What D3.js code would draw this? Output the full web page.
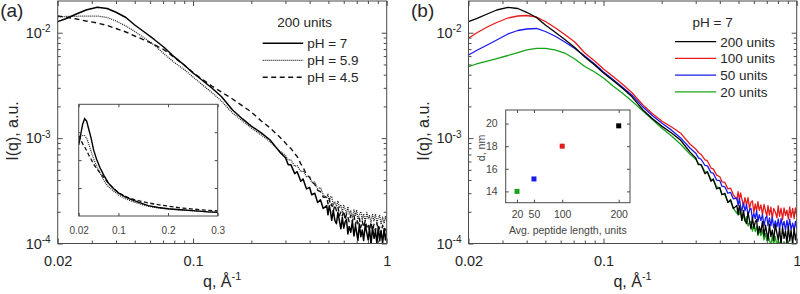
<!DOCTYPE html>
<html>
<head>
<meta charset="utf-8">
<script src="https://cdn.jsdelivr.net/npm/d3@7"></script>
<style>
  body { margin: 0; background: #fff; }
  text { font-family: "Liberation Sans", Arial, sans-serif; }
</style>
</head>
<body>
<svg id="chart" width="800" height="294"></svg>
<script>
// scattering vector q (1/A), shared by every curve; denser where the data gets noisy
const qValues = [0.02, 0.022, 0.025, 0.028, 0.032, 0.036, 0.04, 0.045, 0.05, 0.056, 0.063, 0.071, 0.08, 0.09, 0.1,
  0.112, 0.125, 0.14, 0.16, 0.18, 0.2, 0.225, 0.25, 0.28, 0.30, 0.31, 0.32, 0.335, 0.345, 0.36, 0.37, 0.385, 0.40,
  0.41, 0.425, 0.44, 0.455, 0.47,
  0.49, 0.4975, 0.505, 0.5125, 0.52, 0.53, 0.54, 0.55, 0.56, 0.57, 0.58, 0.59, 0.60, 0.61, 0.62, 0.63, 0.64, 0.6525,
  0.665, 0.6775, 0.69, 0.70, 0.71, 0.7225, 0.735, 0.7475, 0.76, 0.775, 0.79, 0.8025, 0.815, 0.83, 0.845, 0.86, 0.875,
  0.89, 0.905, 0.92, 0.935, 0.9525, 0.97, 0.985, 1.0];

// panel (a): 200 units at three pH values
const ph7 = [0.01274, 0.01358, 0.01506, 0.01643, 0.01742, 0.01698, 0.01563, 0.01394, 0.01184, 0.01016, 0.00863,
  0.00724, 0.00589, 0.00494, 0.00415, 0.00352, 0.00299, 0.00248, 0.00185, 0.00152, 0.00130, 0.00112, 0.00096, 0.00074,
  6.5e-4, 5.6e-4, 5.6e-4, 4.6e-4, 4.8e-4, 3.9e-4, 4.1e-4, 3.3e-4, 3.4e-4, 2.9e-4, 3.0e-4, 2.45e-4, 2.6e-4, 2.15e-4,
  2.29e-4, 1.87e-4, 2.28e-4, 2.02e-4, 1.66e-4, 2.06e-4, 1.66e-4, 1.54e-4, 1.97e-4, 1.63e-4, 1.38e-4, 1.77e-4, 1.40e-4,
  1.60e-4, 1.69e-4, 1.23e-4, 1.45e-4, 1.28e-4, 1.62e-4, 1.18e-4, 1.49e-4, 1.26e-4, 1.07e-4, 1.53e-4, 1.16e-4, 1.34e-4,
  1.07e-4, 1.51e-4, 1.25e-4, 1.08e-4, 1.39e-4, 0.98e-4, 1.43e-4, 1.12e-4, 1.32e-4, 1.00e-4, 1.45e-4, 1.06e-4, 1.33e-4,
  1.00e-4, 1.39e-4, 1.08e-4, 1.27e-4];
const ph59 = [0.01410, 0.01426, 0.01432, 0.01441, 0.01441, 0.01394, 0.01292, 0.01158, 0.01027, 0.00891, 0.00765,
  0.00628, 0.00522, 0.00448, 0.00380, 0.00319, 0.00271, 0.00225, 0.00173, 0.001454, 0.001248, 0.001071, 0.000919, 0.000755,
  6.9e-4, 6.2e-4, 6.2e-4, 5.4e-4, 5.5e-4, 4.8e-4, 4.9e-4, 4.3e-4, 4.3e-4, 3.8e-4, 3.85e-4, 3.3e-4, 3.4e-4, 2.9e-4,
  2.72e-4, 2.95e-4, 2.51e-4, 2.76e-4, 2.80e-4, 2.32e-4, 2.50e-4, 2.24e-4, 2.53e-4, 2.18e-4, 2.33e-4, 1.96e-4, 2.30e-4,
  2.11e-4, 1.91e-4, 2.24e-4, 1.91e-4, 2.04e-4, 1.76e-4, 2.08e-4, 1.85e-4, 2.08e-4, 1.70e-4, 1.89e-4, 2.01e-4, 1.68e-4,
  1.91e-4, 1.62e-4, 1.97e-4, 1.71e-4, 1.84e-4, 1.58e-4, 1.89e-4, 1.64e-4, 1.90e-4, 1.58e-4, 1.74e-4, 1.85e-4, 1.52e-4,
  1.78e-4, 1.55e-4, 1.80e-4, 1.62e-4];
const ph45 = [0.01441, 0.01410, 0.01350, 0.01292, 0.01237, 0.01171, 0.01097, 0.01016, 0.00931, 0.00853, 0.00773,
  0.00686, 0.00582, 0.00494, 0.00419, 0.00360, 0.00312, 0.00274, 0.00235, 0.00202, 0.00177, 0.001454, 0.001248, 0.001025,
  9.0e-4, 8.3e-4, 8.0e-4, 7.1e-4, 6.7e-4, 5.7e-4, 5.3e-4, 4.5e-4, 4.25e-4, 3.85e-4, 3.65e-4, 3.2e-4, 3.1e-4, 2.75e-4,
  2.76e-4, 2.38e-4, 2.68e-4, 2.28e-4, 2.37e-4, 2.04e-4, 2.32e-4, 2.04e-4, 2.23e-4, 1.83e-4, 2.01e-4, 1.83e-4, 2.04e-4,
  1.67e-4, 1.91e-4, 1.78e-4, 1.61e-4, 1.87e-4, 1.61e-4, 1.86e-4, 1.50e-4, 1.70e-4, 1.54e-4, 1.74e-4, 1.42e-4, 1.64e-4,
  1.42e-4, 1.65e-4, 1.43e-4, 1.54e-4, 1.32e-4, 1.60e-4, 1.33e-4, 1.52e-4, 1.32e-4, 1.56e-4, 1.33e-4, 1.43e-4, 1.23e-4,
  1.49e-4, 1.29e-4, 1.44e-4, 1.27e-4];

// panel (b): pH 7 at four peptide lengths (200 units is the same run as pH 7 above)
const units200 = ph7;
const units100 = [0.00885, 0.00994, 0.01133, 0.01250, 0.01379, 0.01441, 0.01457, 0.01410, 0.01278, 0.01121, 0.00962,
  0.00817, 0.00642, 0.00539, 0.00453, 0.00384, 0.00326, 0.00271, 0.00206, 0.00169, 0.001454, 0.001275, 0.00112, 0.00088,
  7.9e-4, 7.3e-4, 7.0e-4, 6.2e-4, 6.1e-4, 5.2e-4, 5.1e-4, 4.45e-4, 4.3e-4, 3.85e-4, 3.8e-4, 3.3e-4, 3.35e-4, 2.9e-4,
  2.60e-4, 3.10e-4, 2.59e-4, 3.02e-4, 2.65e-4, 2.28e-4, 2.73e-4, 2.30e-4, 2.73e-4, 2.14e-4, 2.47e-4, 2.54e-4, 1.97e-4,
  2.37e-4, 2.04e-4, 2.50e-4, 2.06e-4, 2.32e-4, 1.87e-4, 2.35e-4, 2.02e-4, 1.82e-4, 2.29e-4, 1.86e-4, 2.21e-4, 1.72e-4,
  2.15e-4, 1.99e-4, 1.75e-4, 2.28e-4, 1.81e-4, 2.16e-4, 1.68e-4, 2.18e-4, 1.85e-4, 2.07e-4, 1.70e-4, 2.22e-4, 1.76e-4,
  2.15e-4, 1.72e-4, 2.18e-4, 1.85e-4];
const units50 = [0.00615, 0.00678, 0.00765, 0.00853, 0.00973, 0.01050, 0.01085, 0.01097, 0.01027, 0.00931, 0.00817,
  0.00709, 0.00601, 0.00505, 0.00424, 0.00360, 0.00306, 0.00257, 0.00197, 0.00162, 0.00139, 0.00119, 0.00101, 0.000806,
  7.2e-4, 6.5e-4, 6.3e-4, 5.5e-4, 5.45e-4, 4.7e-4, 4.65e-4, 4.0e-4, 3.95e-4, 3.5e-4, 3.45e-4, 3.0e-4, 3.05e-4, 2.65e-4,
  2.71e-4, 2.29e-4, 2.66e-4, 2.24e-4, 2.05e-4, 2.41e-4, 2.04e-4, 2.34e-4, 1.85e-4, 2.09e-4, 2.15e-4, 1.70e-4, 1.93e-4,
  1.72e-4, 2.04e-4, 1.61e-4, 1.88e-4, 1.65e-4, 1.88e-4, 1.47e-4, 1.75e-4, 1.82e-4, 1.48e-4, 1.75e-4, 1.47e-4, 1.78e-4,
  1.41e-4, 1.64e-4, 1.44e-4, 1.71e-4, 1.36e-4, 1.72e-4, 1.44e-4, 1.62e-4, 1.34e-4, 1.66e-4, 1.40e-4, 1.70e-4, 1.35e-4,
  1.56e-4, 1.35e-4, 1.62e-4, 1.38e-4];
const units20 = [0.00476, 0.00505, 0.00539, 0.00569, 0.00608, 0.00649, 0.00686, 0.00709, 0.00709, 0.00686, 0.00642,
  0.00563, 0.00478, 0.00424, 0.00372, 0.00312, 0.00268, 0.00225, 0.00181, 0.001486, 0.001248, 0.001047, 0.00088, 0.000707,
  6.3e-4, 5.7e-4, 5.6e-4, 4.8e-4, 4.75e-4, 4.05e-4, 4.0e-4, 3.45e-4, 3.35e-4, 2.95e-4, 2.9e-4, 2.5e-4, 2.5e-4, 2.15e-4,
  1.93e-4, 2.15e-4, 1.89e-4, 2.08e-4, 1.66e-4, 1.86e-4, 1.62e-4, 1.80e-4, 1.47e-4, 1.58e-4, 1.62e-4, 1.31e-4, 1.51e-4,
  1.30e-4, 1.47e-4, 1.19e-4, 1.34e-4, 1.19e-4, 1.34e-4, 1.08e-4, 1.25e-4, 1.07e-4, 1.24e-4, 1.07e-4, 0.98e-4, 1.16e-4,
  0.99e-4, 1.17e-4, 0.94e-4, 1.08e-4, 0.95e-4, 1.10e-4, 0.90e-4, 1.04e-4, 0.92e-4, 1.08e-4, 0.86e-4, 1.00e-4, 0.88e-4,
  1.05e-4, 0.87e-4, 1.00e-4, 0.90e-4];

// inset (b): spacing d vs. average peptide length
const peptideLength = [20, 50, 100, 200];
const spacingNm = [14.0, 15.1, 18.0, 19.8];

// ticks
const xTicks = [0.02, 0.1, 1];
const xMinor = [0.03, 0.04, 0.05, 0.06, 0.07, 0.08, 0.09, 0.2, 0.3, 0.4, 0.5, 0.6, 0.7, 0.8, 0.9];
const yTicks = [1e-4, 1e-3, 1e-2];
const yMinor = [2e-4, 3e-4, 4e-4, 5e-4, 6e-4, 7e-4, 8e-4, 9e-4, 2e-3, 3e-3, 4e-3, 5e-3, 6e-3, 7e-3, 8e-3, 9e-3];
const insetATicks = [0.02, 0.1, 0.2, 0.3];
const insetAYTicks = [0.005, 0.01, 0.015];
const insetBXTicks = [20, 50, 100, 200];
const insetBYTicks = [14, 16, 18, 20];

const axisColor = "#4a4a4a";
const textColor = "#262626";
const plotTop = 1, plotBottom = 243.5;

const svg = d3.select("#chart");

function toPoints(vals) {
  return qValues.map((q, i) => ({q: q, I: vals[i]}));
}

// inward ticks on all four sides plus a box
function boxAxes(g, x, y, o) {
  const [x0, x1] = x.range();
  const [y0, y1] = y.range();
  const style = sel => {
    sel.select(".domain").remove();
    sel.attr("color", axisColor).attr("font-family", null).attr("font-size", o.fontSize);
    sel.selectAll("text").attr("fill", o.textFill);
  };
  const bx = g.append("g").attr("transform", `translate(0,${y0})`)
    .call(d3.axisBottom(x).tickValues(o.xTicks).tickSize(-o.tick).tickPadding(o.xPad)
      .tickFormat(o.xFormat)).call(style);
  g.append("g").attr("transform", `translate(0,${y1})`)
    .call(d3.axisTop(x).tickValues(o.xTicks).tickSize(-o.tick).tickFormat("")).call(style);
  const ly = g.append("g").attr("transform", `translate(${x0},0)`)
    .call(d3.axisLeft(y).tickValues(o.yTicks).tickSize(-o.tick).tickPadding(o.yPad)
      .tickFormat(o.yFormat)).call(style);
  g.append("g").attr("transform", `translate(${x1},0)`)
    .call(d3.axisRight(y).tickValues(o.yTicks).tickSize(-o.tick).tickFormat("")).call(style);
  if (o.xMinor) {
    g.append("g").attr("transform", `translate(0,${y0})`)
      .call(d3.axisBottom(x).tickValues(o.xMinor).tickSize(-o.minor).tickFormat("")).call(style);
    g.append("g").attr("transform", `translate(0,${y1})`)
      .call(d3.axisTop(x).tickValues(o.xMinor).tickSize(-o.minor).tickFormat("")).call(style);
    g.append("g").attr("transform", `translate(${x0},0)`)
      .call(d3.axisLeft(y).tickValues(o.yMinor).tickSize(-o.minor).tickFormat("")).call(style);
    g.append("g").attr("transform", `translate(${x1},0)`)
      .call(d3.axisRight(y).tickValues(o.yMinor).tickSize(-o.minor).tickFormat("")).call(style);
  }
  g.append("rect")
    .attr("x", x0).attr("y", y1).attr("width", x1 - x0).attr("height", y0 - y1)
    .attr("fill", "none").attr("stroke", axisColor).attr("stroke-width", 1);
  return {bx: bx, ly: ly};
}

function drawPanel(p) {
  const g = svg.append("g");
  const x = d3.scaleLog().domain([0.02, 1]).range([p.left, p.right]);
  const y = d3.scaleLog().domain([1e-4, 0.02]).range([plotBottom, plotTop]);

  const clipId = "clip-" + p.name;
  svg.append("clipPath").attr("id", clipId).append("rect")
    .attr("x", p.left).attr("y", plotTop).attr("width", p.right - p.left).attr("height", plotBottom - plotTop);

  const line = d3.line().x(d => x(d.q)).y(d => y(d.I));
  g.append("g").attr("clip-path", `url(#${clipId})`)
    .selectAll("path").data(p.series).enter().append("path")
    .attr("d", s => line(toPoints(s.values)))
    .attr("fill", "none")
    .attr("stroke", s => s.color)
    .attr("stroke-width", s => s.width)
    .attr("stroke-dasharray", s => s.dash)
    .attr("stroke-linejoin", "round");

  const ax = boxAxes(g, x, y, {
    xTicks: xTicks, yTicks: yTicks, xMinor: xMinor, yMinor: yMinor,
    tick: 5, minor: 3, xPad: 12, yPad: 7, fontSize: 14.5, textFill: textColor,
    xFormat: d3.format("~g"), yFormat: d => d
  });
  ax.ly.selectAll(".tick text").text(null).each(function(d) {
    const t = d3.select(this);
    t.append("tspan").text("10");
    t.append("tspan").attr("dy", "-0.55em").attr("font-size", 10).text(Math.round(Math.log10(d)));
  });

  // axis titles
  const xl = g.append("text")
    .attr("x", (p.left + p.right) / 2).attr("y", 286.5)
    .attr("text-anchor", "middle").attr("font-size", 16).attr("fill", textColor);
  xl.append("tspan").text("q, \u00C5");
  xl.append("tspan").attr("dy", -7).attr("font-size", 11).text("-1");
  g.append("text")
    .attr("transform", `translate(${p.left - 39.5},131) rotate(-90)`)
    .attr("text-anchor", "middle").attr("font-size", 16).attr("fill", textColor)
    .text("I(q), a.u.");

  g.append("text").attr("x", p.left - 57.5).attr("y", 16.5)
    .attr("font-size", 19).attr("fill", textColor).text(p.label);

  // legend
  const lg = g.append("g");
  lg.append("text").attr("x", p.right - p.legendTitleOffset).attr("y", 27)
    .attr("text-anchor", "middle").attr("font-size", 13.5).attr("fill", textColor).text(p.legendTitle);
  const rows = lg.selectAll(".row").data(p.series.slice().sort((a, b) => a.order - b.order))
    .enter().append("g").attr("class", "row")
    .attr("transform", (s, i) => `translate(0,${p.legendY0 + i * p.legendStep})`);
  rows.append("line")
    .attr("x1", p.right - p.legendLine[0]).attr("x2", p.right - p.legendLine[1])
    .attr("stroke", s => s.color).attr("stroke-width", s => s.width)
    .attr("stroke-dasharray", s => s.dash);
  rows.append("text").attr("x", p.right - p.legendLine[1] + 4).attr("y", 5)
    .attr("font-size", 13.5).attr("fill", textColor).text(s => s.name);

  return {g: g, x: x, y: y};
}

// panel (a)
const panelA = drawPanel({
  name: "a", label: "(a)", left: 57.7, right: 386.7,
  legendTitle: "200 units", legendTitleOffset: 82,
  legendY0: 43.3, legendStep: 17, legendLine: [124, 83.5],
  series: [
    {name: "pH = 4.5", values: ph45, color: "#111", width: 1.4, dash: "5,3.5", order: 2},
    {name: "pH = 5.9", values: ph59, color: "#1e1e1e", width: 1.25, dash: "1,1", order: 1},
    {name: "pH = 7", values: ph7, color: "#000", width: 1.5, dash: null, order: 0}
  ]
});

// inset (a): same data on linear axes
{
  const g = panelA.g;
  const x = d3.scaleLinear().domain([0.02, 0.3]).range([78.7, 217.7]);
  const y = d3.scaleLinear().domain([0, 0.02]).range([216, 104.3]);
  g.append("rect").attr("x", 78.7).attr("y", 104.3).attr("width", 139).attr("height", 111.7).attr("fill", "#fff");
  svg.append("clipPath").attr("id", "clip-ia").append("rect")
    .attr("x", 78.7).attr("y", 104.3).attr("width", 139).attr("height", 111.7);
  const line = d3.line().x(d => x(d.q)).y(d => y(d.I));
  const inset = [
    {values: ph45, color: "#111", width: 1.3, dash: "4,2.5"},
    {values: ph59, color: "#1e1e1e", width: 1.2, dash: "1,1"},
    {values: ph7, color: "#000", width: 1.4, dash: null}
  ];
  g.append("g").attr("clip-path", "url(#clip-ia)")
    .selectAll("path").data(inset).enter().append("path")
    .attr("d", s => line(toPoints(s.values).filter(d => d.q <= 0.32)))
    .attr("fill", "none").attr("stroke", s => s.color).attr("stroke-width", s => s.width)
    .attr("stroke-dasharray", s => s.dash);
  boxAxes(g, x, y, {
    xTicks: insetATicks, yTicks: insetAYTicks, tick: 3, xPad: 11, yPad: 4,
    fontSize: 10, textFill: "#444", xFormat: d3.format("~g"), yFormat: ""
  });
}

// panel (b)
const panelB = drawPanel({
  name: "b", label: "(b)", left: 468.5, right: 796.7,
  legendTitle: "pH = 7", legendTitleOffset: 84,
  legendY0: 41.7, legendStep: 16.7, legendLine: [121.7, 80.5],
  series: [
    {name: "20 units", values: units20, color: "#17a317", width: 1.3, dash: null, order: 3},
    {name: "100 units", values: units100, color: "#e61c1c", width: 1.3, dash: null, order: 1},
    {name: "50 units", values: units50, color: "#1a1aeb", width: 1.3, dash: null, order: 2},
    {name: "200 units", values: units200, color: "#000", width: 1.3, dash: null, order: 0}
  ]
});

// inset (b): d vs peptide length
{
  const g = panelB.g;
  const x = d3.scaleLinear().domain([0, 220]).range([505.7, 630]);
  const y = d3.scaleLinear().domain([13, 21.2]).range([202.7, 110]);
  g.append("rect").attr("x", 505.7).attr("y", 110).attr("width", 124.3).attr("height", 92.7).attr("fill", "#fff");
  const colors = ["#17a317", "#1a1aeb", "#e61c1c", "#000"];
  g.selectAll(".pt").data(peptideLength).enter().append("rect").attr("class", "pt")
    .attr("x", (d, i) => x(d) - 2.5).attr("y", (d, i) => y(spacingNm[i]) - 2.5)
    .attr("width", 5).attr("height", 5).attr("fill", (d, i) => colors[i]);
  boxAxes(g, x, y, {
    xTicks: insetBXTicks, yTicks: insetBYTicks, tick: 3, xPad: 7.5, yPad: 8,
    fontSize: 10.5, textFill: "#444", xFormat: d => d, yFormat: d => d
  });
  g.append("text").attr("x", 567.8).attr("y", 233.5).attr("text-anchor", "middle")
    .attr("font-size", 10.5).attr("fill", "#444").text("Avg. peptide length, units");
  g.append("text").attr("transform", "translate(485,148) rotate(-90)").attr("text-anchor", "middle")
    .attr("font-size", 10.5).attr("fill", "#444").text("d, nm");
}
</script>
</body>
</html>
